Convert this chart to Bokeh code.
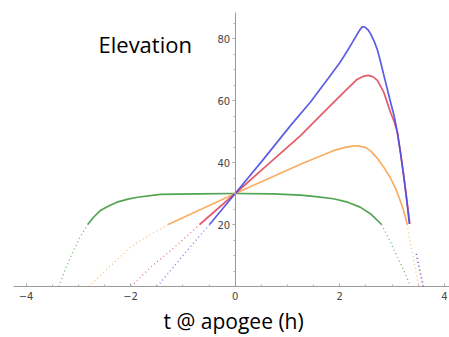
from bokeh.plotting import figure
from bokeh.models import Range1d, FixedTicker, Label
from bokeh.embed import file_html
from bokeh.resources import INLINE

# ---- data: time at apogee (h) vs elevation (deg) ----
blue_t = [-1.49, -1.2, -0.9, -0.49, 0.0, 0.5, 1.057, 1.44, 1.82, 2.0, 2.14, 2.25,
          2.33, 2.38, 2.43, 2.48, 2.54, 2.59, 2.66, 2.72, 2.78, 2.84, 2.97, 3.04,
          3.1, 3.16, 3.22, 3.28, 3.33, 3.46, 3.59]
blue_e = [0, 5.9, 12, 20, 30, 40.2, 51.9, 59.5, 68.1, 72.2, 75.9, 79.0,
          81.3, 82.7, 83.8, 83.7, 82.8, 81.5, 79.0, 76.3, 72.5, 68.3, 59.5, 55.0,
          49.8, 43.3, 36.0, 28.0, 20.2, 10.5, 0]

red_t = [-1.99, -1.6, -1.17, -0.68, 0.0, 0.6, 1.25, 1.69, 2.08, 2.33, 2.45, 2.54,
         2.63, 2.72, 2.84, 2.97, 3.04, 3.1, 3.16, 3.22, 3.28, 3.34, 3.47, 3.6]
red_e = [0, 6.5, 12.5, 20, 30, 39, 48.7, 56.2, 62.7, 66.8, 67.8, 68.1,
         67.7, 66.5, 62.7, 56.2, 53.2, 49.8, 43.3, 36.0, 28.0, 20.2, 10.5, 0]

orange_t = [-2.8, -2.5, -2.0, -1.6, -1.28, 0.0, 1.27, 1.89, 2.1, 2.25, 2.35, 2.5,
            2.6, 2.71, 2.84, 2.97, 3.07, 3.15, 3.22, 3.29, 3.36, 3.43, 3.51]
orange_e = [0, 4.8, 12.7, 17, 20, 30, 39.6, 43.9, 44.9, 45.3, 45.4, 44.8,
            43.6, 41.5, 38.5, 35.0, 31.5, 28.0, 24.5, 20, 13, 7, 0]

green_t = [-3.37, -3.25, -3.12, -2.98, -2.82, -2.7, -2.58, -2.42, -2.26, -2.05,
           -1.87, -1.43, -0.73, 0.0, 0.73, 1.25, 1.5, 1.88, 2.15, 2.39, 2.6, 2.8,
           2.95, 3.1, 3.23, 3.35]
green_e = [0, 5.5, 10.5, 15.5, 20, 22.5, 24.5, 26, 27.2, 28.2,
           28.8, 29.7, 29.9, 30.0, 29.9, 29.5, 29.1, 28.3, 27.2, 25.6, 23.3, 20,
           15, 9.5, 5, 0]

x_major = [-4, -2, 0, 2, 4]
x_minor = [v / 2 for v in range(-8, 9)]
y_major = [20, 40, 60, 80]
y_minor = list(range(5, 90, 5))
x_label_text = {-4: "\u22124", -2: "\u22122"}

series = [
    (green_t, green_e, "#3f9a3f"),
    (orange_t, orange_e, "#f7a451"),
    (red_t, red_e, "#e0485a"),
    (blue_t, blue_e, "#4b4be0"),
]
THRESH = 20

p = figure(width=449, height=337,
           x_range=Range1d(-4.488, 4.098), y_range=Range1d(-16.45, 92.26),
           output_backend="svg", toolbar_location=None,
           min_border=0, min_border_left=0, min_border_right=0,
           min_border_top=0, min_border_bottom=0)
p.outline_line_color = None
p.grid.visible = False
p.background_fill_color = "white"
p.border_fill_color = "white"


def segments(ts, es, solid):
    segs, cur = [], []
    for t, e in zip(ts, es):
        ok = e >= THRESH if solid else e <= THRESH
        if ok:
            cur.append((t, e))
        else:
            if len(cur) > 1:
                segs.append(cur)
            cur = []
    if len(cur) > 1:
        segs.append(cur)
    return segs


for ts, es, col in series:
    for seg in segments(ts, es, solid=False):
        p.line([a for a, _ in seg], [b for _, b in seg], line_color=col,
               line_width=1.3, line_dash="1 3", line_alpha=0.75)
for ts, es, col in series:
    for seg in segments(ts, es, solid=True):
        p.line([a for a, _ in seg], [b for _, b in seg], line_color=col,
               line_width=1.7, line_alpha=0.9, line_join="round")

# axes through the origin
for ax in (p.xaxis[0], p.yaxis[0]):
    ax.fixed_location = 0
    ax.axis_line_color = "#9a9a9a"
    ax.major_tick_line_color = "#9a9a9a"
    ax.minor_tick_line_color = "#b0b0b0"
    ax.major_label_text_font = "DejaVu Sans"
    ax.major_label_text_font_size = "10px"
    ax.major_label_text_color = "#444444"

xa = p.xaxis[0]
xa.ticker = FixedTicker(ticks=x_major, minor_ticks=x_minor)
xa.bounds = (-4.24, 4.2)
xa.major_tick_in = 3
xa.major_tick_out = 0
xa.minor_tick_in = 2
xa.minor_tick_out = 0
xa.major_label_standoff = 5
xa.major_label_overrides = x_label_text

ya = p.yaxis[0]
ya.ticker = FixedTicker(ticks=y_major, minor_ticks=y_minor)
ya.bounds = (0, 88.4)
ya.major_tick_in = 0
ya.major_tick_out = 3
ya.minor_tick_in = 0
ya.minor_tick_out = 2
ya.major_label_standoff = 2

p.add_layout(Label(x=-2.614, y=78.3, text="Elevation", text_font="Open Sans",
                   text_font_size="22px", text_color="black",
                   text_align="left", text_baseline="alphabetic"))
p.add_layout(Label(x=-0.03, y=-11.0, text="t @ apogee (h)", text_font="Open Sans",
                   text_font_size="21px", text_color="black",
                   text_align="center", text_baseline="alphabetic"))

open("out.html", "w").write(file_html(p, INLINE))
